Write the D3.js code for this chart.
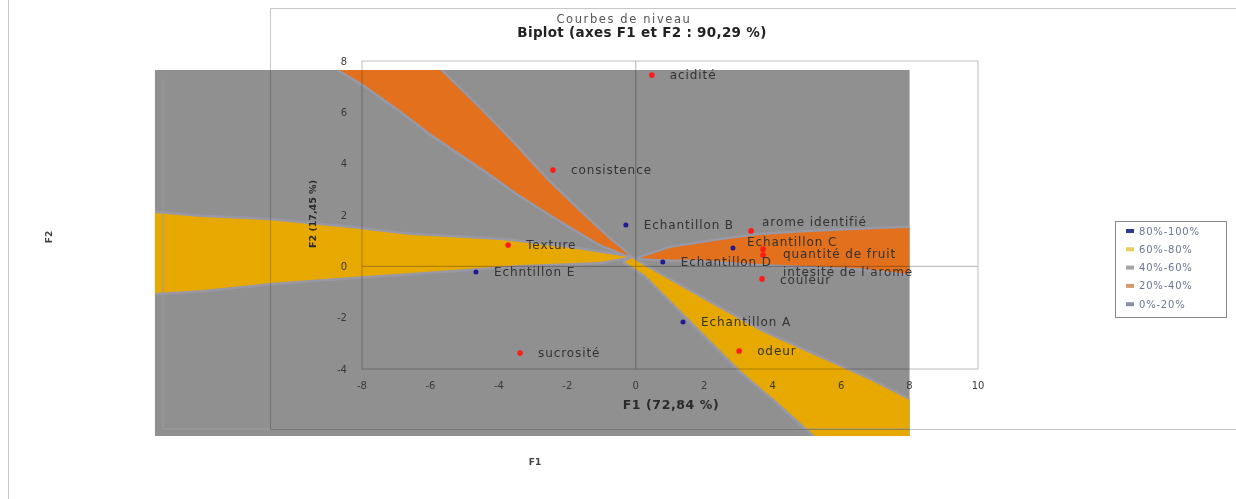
<!DOCTYPE html>
<html><head><meta charset="utf-8">
<script src="https://cdn.jsdelivr.net/npm/d3@7"></script>
<style>
body{margin:0;background:#fff;}
svg{display:block;font-family:"DejaVu Sans",Verdana,sans-serif;}
</style>
</head><body>
<svg id="c" width="1236" height="499"></svg>
<script>
// ---------- DATA ----------
const xTicks = [-8,-6,-4,-2,0,2,4,6,8,10];
const yTicks = [-4,-2,0,2,4,6,8];

const variableNames = ["acidité","consistence","arome identifié","quantité de fruit","intesité de l’arome","couleur","Texture","sucrosité","odeur"];
const variableF1 = [0.47,-2.42,3.37,3.72,3.72,3.69,-3.73,-3.38,3.02];
const variableF2 = [7.45,3.75,1.38,0.67,0.44,-0.49,0.83,-3.38,-3.30];

const obsNames = ["Echantillon A","Echantillon B","Echantillon C","Echantillon D","Echntillon E"];
const obsF1 = [1.38,-0.29,2.84,0.79,-4.67];
const obsF2 = [-2.17,1.61,0.71,0.17,-0.22];

const legendLabels = ["80%-100%","60%-80%","40%-60%","20%-40%","0%-20%"];

// contour map extent (F1, F2) and level regions (polygons in F1/F2 units)
const contourF1 = [-14.05, 8];
const contourF2 = [-6.61, 7.65];
const orangeUpper = [[-8.65,7.65],[-5.72,7.65],[-4.55,6.12],[-3.53,4.72],[-2.57,3.32],[-1.63,2.12],[-0.81,1.10],[-0.17,0.40],
  [-1.05,0.87],[-2.22,1.81],[-3.38,2.78],[-4.41,3.75],[-5.28,4.53],[-6.01,5.19],[-6.89,6.09],[-7.91,7.06]];
const orangeRight = [[0.12,0.32],[1.00,0.71],[2.46,1.02],[3.63,1.22],[5.09,1.34],[7.14,1.45],[8.0,1.49],
  [8.0,-0.30],[6.55,-0.07],[3.63,0.09],[1.87,0.25],[0.71,0.28]];
const yellowLeft = [[-14.05,2.08],[-12.73,1.92],[-10.69,1.80],[-8.35,1.49],[-6.60,1.22],[-3.97,1.03],[-1.92,0.71],[-0.23,0.36],
  [-1.05,0.17],[-3.38,0.05],[-6.60,-0.26],[-8.35,-0.42],[-10.69,-0.65],[-12.73,-0.93],[-14.05,-1.04]];
const yellowLower = [[-0.11,0.32],[0.27,0.01],[2.02,-1.31],[3.77,-2.60],[5.67,-3.73],[6.84,-4.43],[8.0,-5.21],[8.0,-6.61],
  [5.24,-6.61],[4.07,-5.21],[3.04,-4.04],[2.02,-2.68],[1.00,-1.31],[0.27,-0.34],[-0.32,0.17]];

// ---------- STYLE ----------
const C = {
  gray:"#909090", halo:"#9a9aab", orange:"#e2701c", yellow:"#e7a900",
  red:"#ff1a1a", blue:"#1c1c90", text:"#3a3a3a"
};
const legendColors = ["#2a3a8c","#e6cf5c","#a4a4a4","#d69a6c","#8a90aa"];
const labelOffset = {
  "arome identifié":[11,-9], "Echantillon C":[14,-6], "quantité de fruit":[20,5],
  "intesité de l’arome":[20,17], "couleur":[18,1]
};

const svg = d3.select("#c");
const x = d3.scaleLinear().domain([-8,10]).range([362,978]);
const y = d3.scaleLinear().domain([-4,8]).range([369,61]);
const line = d3.line().x(d=>x(d[0])).y(d=>y(d[1]));

svg.append("rect").attr("width",1236).attr("height",499).attr("fill","#fff");

// ---------- contour map layer ----------
const cm = svg.append("g");
cm.append("rect")
  .attr("x",x(contourF1[0])).attr("y",y(contourF2[1]))
  .attr("width",x(contourF1[1])-x(contourF1[0])).attr("height",y(contourF2[0])-y(contourF2[1]))
  .attr("fill",C.gray);
svg.append("clipPath").attr("id","cmclip").append("rect")
  .attr("x",x(contourF1[0])).attr("y",y(contourF2[1]))
  .attr("width",x(contourF1[1])-x(contourF1[0])).attr("height",y(contourF2[0])-y(contourF2[1]));
const regions = [[orangeUpper,C.orange],[orangeRight,C.orange],[yellowLeft,C.yellow],[yellowLower,C.yellow]];
const rg = cm.append("g").attr("clip-path","url(#cmclip)");
regions.forEach(([p,col])=>{
  rg.append("path").attr("d",line(p)+"Z").attr("fill","none").attr("stroke",C.halo)
    .attr("stroke-width",5).attr("stroke-linejoin","round").attr("opacity",0.8);
});
regions.forEach(([p,col])=>{
  rg.append("path").attr("d",line(p)+"Z").attr("fill",col);
});
// contour chart inner frame
cm.append("path").attr("d","M163,79V429H910").attr("fill","none").attr("stroke","#9c9c9c").attr("stroke-width",1);
cm.append("line").attr("x1",8.5).attr("x2",8.5).attr("y1",0).attr("y2",499).attr("stroke","#c4c4c4");

// contour axis titles
svg.append("text").attr("transform","translate(52,237) rotate(-90)").attr("text-anchor","middle")
  .attr("font-size",9).attr("font-weight","bold").attr("fill","#444").text("F2");
svg.append("text").attr("x",535).attr("y",465).attr("text-anchor","middle")
  .attr("font-size",9).attr("font-weight","bold").attr("fill","#444").text("F1");

// ---------- biplot layer (lines multiplied over map) ----------
const bl = svg.append("g").style("mix-blend-mode","multiply");
bl.append("path").attr("d","M1240,8.5H270.5V429.5H1240").attr("fill","none").attr("stroke","#c6c6c6");
bl.append("rect").attr("x",x(-8)).attr("y",y(8)).attr("width",x(10)-x(-8)).attr("height",y(-4)-y(8))
  .attr("fill","none").attr("stroke","#bdbdbd");
bl.append("line").attr("x1",x(-8)).attr("x2",x(10)).attr("y1",y(0)).attr("y2",y(0)).attr("stroke","#b4b4b4");
bl.append("line").attr("x1",x(0)).attr("x2",x(0)).attr("y1",y(8)).attr("y2",y(-4)).attr("stroke","#b4b4b4");

// tick labels
svg.append("g").selectAll("text").data(xTicks).join("text")
  .attr("x",d=>x(d)).attr("y",385).attr("dy","0.35em").attr("text-anchor","middle")
  .attr("font-size",10).attr("fill",C.text).text(d=>d);
svg.append("g").selectAll("text").data(yTicks).join("text")
  .attr("x",347).attr("y",d=>y(d)).attr("dy","0.35em").attr("text-anchor","end")
  .attr("font-size",10).attr("fill",C.text).text(d=>d);

// axis titles
svg.append("text").attr("x",671).attr("y",409).attr("text-anchor","middle")
  .attr("font-size",12.5).attr("font-weight","bold").attr("fill","#2a2a2a")
  .attr("letter-spacing","0.6px").text("F1 (72,84 %)");
svg.append("text").attr("transform","translate(316,214) rotate(-90)").attr("text-anchor","middle")
  .attr("font-size",9.5).attr("font-weight","bold").attr("fill","#2a2a2a")
  .text("F2 (17,45 %)");

// points & labels
const pts = variableNames.map((n,i)=>({n,f1:variableF1[i],f2:variableF2[i],c:C.red,r:2.8}))
  .concat(obsNames.map((n,i)=>({n,f1:obsF1[i],f2:obsF2[i],c:C.blue,r:2.5})));
const pg = svg.append("g");
pg.selectAll("circle").data(pts).join("circle")
  .attr("cx",d=>x(d.f1)).attr("cy",d=>y(d.f2)).attr("r",d=>d.r).attr("fill",d=>d.c);
pg.selectAll("text").data(pts).join("text")
  .attr("x",d=>x(d.f1)+(labelOffset[d.n]||[18,0])[0])
  .attr("y",d=>y(d.f2)+(labelOffset[d.n]||[18,0])[1])
  .attr("dy","0.35em").attr("font-size",12).attr("letter-spacing","0.9px")
  .attr("fill","#333").text(d=>d.n);

// titles
svg.append("text").attr("x",624).attr("y",23).attr("text-anchor","middle")
  .attr("font-size",11.5).attr("fill","#555").attr("letter-spacing","1.6px")
  .text("Courbes de niveau");
svg.append("text").attr("x",642).attr("y",37).attr("text-anchor","middle")
  .attr("font-size",13.5).attr("font-weight","bold").attr("fill","#222").attr("letter-spacing","0.3px")
  .text("Biplot (axes F1 et F2 : 90,29 %)");

// legend
const lg = svg.append("g");
lg.append("rect").attr("x",1115.5).attr("y",221.5).attr("width",111).attr("height",96)
  .attr("fill","#fff").attr("stroke","#8a8a8a");
const li = lg.selectAll("g").data(legendLabels).join("g")
  .attr("transform",(d,i)=>`translate(1126,${231+i*18.3})`);
li.append("rect").attr("x",0).attr("y",-2).attr("width",8).attr("height",4).attr("fill",(d,i)=>legendColors[i]);
li.append("text").attr("x",13).attr("y",0).attr("dy","0.35em").attr("font-size",10)
  .attr("letter-spacing","0.8px").attr("fill","#6a7590").text(d=>d);
</script>
</body></html>
